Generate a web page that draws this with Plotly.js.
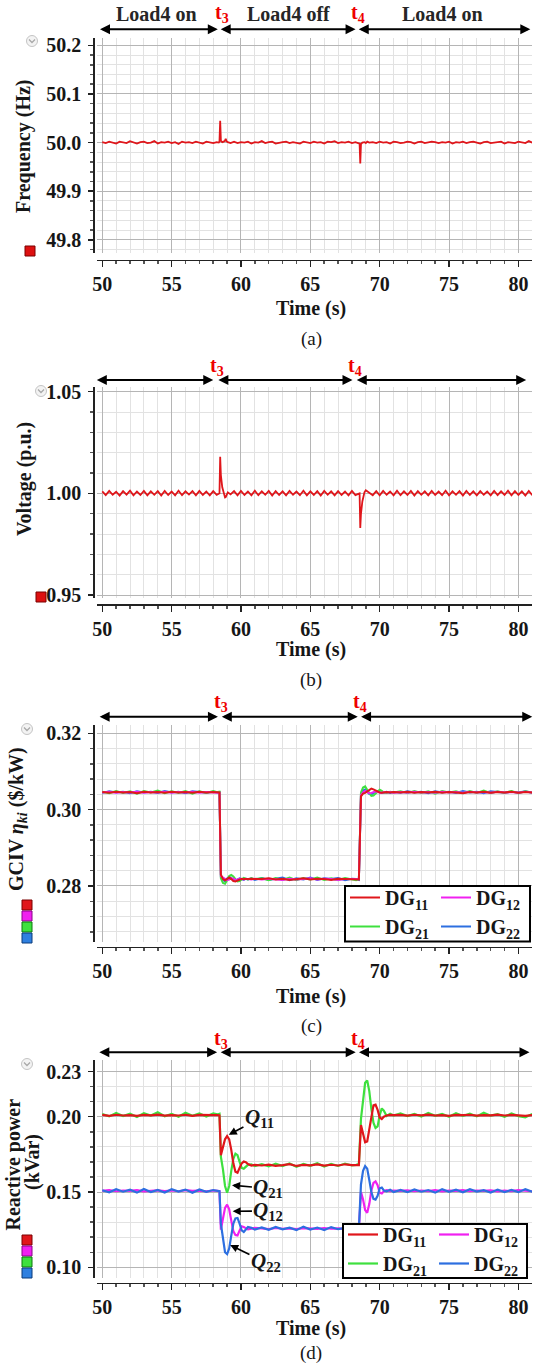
<!DOCTYPE html>
<html>
<head>
<meta charset="utf-8">
<script src="https://cdn.plot.ly/plotly-3.0.1.min.js"></script>
<style>html,body{margin:0;padding:0;background:#fff;}#chart{width:539px;height:1363px;}</style>
</head>
<body>
<div id="chart"></div>
<script>
// ---------------- DATA ----------------
// Panels (a) and (b): time samples (s)
const T_AB = [50,50.25,50.5,50.75,51,51.25,51.5,51.75,52,52.25,52.5,52.75,53,53.25,53.5,53.75,54,54.25,54.5,54.75,55,55.25,55.5,55.75,56,56.25,56.5,56.75,57,57.25,57.5,57.75,58,58.25,
  58.4,58.45,58.5,58.55,58.65,58.75,58.85,58.9,58.95,59.05,59.25,
  59.5,59.75,60,60.25,60.5,60.75,61,61.25,61.5,61.75,62,62.25,62.5,62.75,63,63.25,63.5,63.75,64,64.25,64.5,64.75,65,65.25,65.5,65.75,66,66.25,66.5,66.75,67,67.25,67.5,67.75,68,68.25,
  68.4,68.55,68.6,68.65,68.75,68.9,69.0,69.1,69.25,
  69.5,69.75,70,70.25,70.5,70.75,71,71.25,71.5,71.75,72,72.25,72.5,72.75,73,73.25,73.5,73.75,74,74.25,74.5,74.75,75,75.25,75.5,75.75,76,76.25,76.5,76.75,77,77.25,77.5,77.75,78,78.25,78.5,78.75,79,79.25,79.5,79.75,80,80.25,80.5,80.75,81];
// (a) Frequency (Hz)
const FREQ = [50.001,49.999,50.002,50.000,49.998,50.002,50.001,49.999,50.003,50.000,49.998,50.001,50.002,49.999,50.000,50.003,49.998,50.001,50.000,50.002,49.999,50.001,49.997,50.002,50.000,50.001,49.999,50.002,50.000,49.998,50.002,50.001,49.999,50.001,
  50.000,50.002,50.045,50.004,50.001,50.002,50.004,50.008,50.003,50.001,49.999,
  50.002,49.999,50.001,50.000,50.002,49.998,50.001,50.000,50.003,49.999,50.001,50.002,49.998,50.000,50.001,50.002,49.999,50.001,50.000,49.998,50.002,50.001,49.999,50.002,50.000,50.001,49.998,50.002,50.001,50.003,49.999,50.001,50.000,50.002,49.999,50.001,
  50.000,49.998,49.957,49.997,50.000,50.001,49.999,50.002,50.000,
  50.001,49.999,50.002,50.000,50.001,49.998,50.002,50.001,49.999,50.000,50.002,50.001,49.998,50.001,50.002,49.999,50.000,50.002,50.001,49.999,50.001,50.000,50.002,49.998,50.001,50.000,50.002,49.999,50.001,50.002,50.000,49.998,50.001,50.002,49.999,50.000,50.001,50.002,49.998,50.001,50.000,49.999,50.002,50.001,49.999,50.003,50.000];
// (b) Voltage (p.u.)
const VOLT = [1.0010,0.9991,1.0012,0.9993,1.0008,0.9989,1.0011,0.9994,1.0013,0.9990,1.0009,0.9992,1.0012,0.9990,1.0010,0.9993,1.0011,0.9989,1.0012,0.9992,1.0009,0.9990,1.0013,0.9991,1.0010,0.9994,1.0011,0.9990,1.0012,0.9992,1.0009,0.9990,1.0011,0.9993,
  0.9998,1.0000,1.0180,1.0090,1.0030,1.0000,0.9980,0.9982,0.9990,1.0005,0.9995,
  1.0011,0.9990,1.0012,0.9992,1.0009,0.9990,1.0013,0.9991,1.0010,0.9993,1.0012,0.9989,1.0011,0.9992,1.0010,0.9990,1.0012,0.9993,1.0009,0.9991,1.0013,0.9990,1.0010,0.9992,1.0011,0.9989,1.0012,0.9993,1.0010,0.9990,1.0011,0.9992,1.0009,0.9990,1.0012,0.9991,
  0.9995,1.0000,0.9830,0.9900,0.9960,1.0005,1.0015,1.0010,1.0000,
  0.9991,1.0011,0.9990,1.0012,0.9993,1.0009,0.9990,1.0013,0.9991,1.0010,0.9992,1.0012,0.9989,1.0011,0.9993,1.0010,0.9990,1.0012,0.9992,1.0009,0.9991,1.0013,0.9990,1.0010,0.9993,1.0011,0.9989,1.0012,0.9992,1.0010,0.9990,1.0011,0.9993,1.0009,0.9990,1.0012,0.9991,1.0010,0.9992,1.0013,0.9990,1.0011,0.9992,1.0010,0.9989,1.0012,0.9991];

// Panels (c) and (d): time samples (s)
const T_CD = [50.0,50.5,51.0,51.5,52.0,52.5,53.0,53.5,54.0,54.5,55.0,55.5,56.0,56.5,57.0,57.5,58.0,
  58.3,58.45,58.55,58.7,58.85,59.0,59.15,59.3,59.45,59.6,59.75,59.9,60.05,60.2,60.35,60.5,60.75,61.0,
  61.5,62.0,62.5,63.0,63.5,64.0,64.5,65.0,65.5,66.0,66.5,67.0,67.5,68.0,
  68.3,68.5,68.65,68.8,68.95,69.1,69.25,69.4,69.55,69.7,69.85,70.0,70.15,70.3,70.5,70.75,71.0,
  71.5,72.0,72.5,73.0,73.5,74.0,74.5,75.0,75.5,76.0,76.5,77.0,77.5,78.0,78.5,79.0,79.5,80.0,80.5,81.0];

// (c) GCIV eta_ki ($/kW)
const GCIV_DG11 = [0.3046,0.3044,0.3047,0.3045,0.3046,0.3043,0.3047,0.3045,0.3046,0.3044,0.3047,0.3045,0.3046,0.3044,0.3047,0.3045,0.3046,
  0.3046,0.3045,0.2830,0.2818,0.2815,0.2818,0.2822,0.2818,0.2813,0.2812,0.2815,0.2818,0.2819,0.2818,0.2817,0.2818,0.2819,0.2818,
  0.2818,0.2820,0.2817,0.2819,0.2816,0.2818,0.2820,0.2817,0.2819,0.2818,0.2816,0.2819,0.2818,0.2817,
  0.2818,0.2817,0.3035,0.3042,0.3044,0.3048,0.3053,0.3055,0.3053,0.3050,0.3047,0.3045,0.3044,0.3045,0.3046,0.3045,0.3046,
  0.3045,0.3047,0.3044,0.3046,0.3045,0.3047,0.3044,0.3046,0.3045,0.3043,0.3046,0.3045,0.3047,0.3044,0.3046,0.3045,0.3047,0.3044,0.3046,0.3045];
const GCIV_DG12 = [0.3045,0.3047,0.3044,0.3046,0.3045,0.3047,0.3044,0.3046,0.3045,0.3047,0.3044,0.3046,0.3045,0.3047,0.3044,0.3046,0.3045,
  0.3045,0.3044,0.2826,0.2822,0.2818,0.2815,0.2817,0.2820,0.2819,0.2816,0.2817,0.2819,0.2818,0.2817,0.2819,0.2818,0.2817,0.2819,
  0.2817,0.2819,0.2818,0.2816,0.2819,0.2817,0.2818,0.2820,0.2817,0.2819,0.2818,0.2816,0.2818,0.2819,
  0.2818,0.2818,0.3038,0.3045,0.3049,0.3046,0.3043,0.3044,0.3046,0.3048,0.3046,0.3045,0.3044,0.3046,0.3045,0.3046,0.3044,
  0.3046,0.3044,0.3047,0.3045,0.3046,0.3044,0.3047,0.3045,0.3046,0.3044,0.3047,0.3045,0.3046,0.3044,0.3047,0.3045,0.3046,0.3044,0.3047,0.3045];
const GCIV_DG21 = [0.3047,0.3043,0.3049,0.3044,0.3048,0.3042,0.3049,0.3045,0.3050,0.3043,0.3048,0.3044,0.3049,0.3042,0.3048,0.3044,0.3049,
  0.3046,0.3047,0.2820,0.2808,0.2806,0.2815,0.2826,0.2829,0.2825,0.2818,0.2812,0.2813,0.2818,0.2821,0.2819,0.2817,0.2820,0.2818,
  0.2820,0.2815,0.2821,0.2816,0.2822,0.2815,0.2821,0.2817,0.2822,0.2816,0.2820,0.2815,0.2821,0.2816,
  0.2815,0.2819,0.3045,0.3058,0.3061,0.3052,0.3042,0.3036,0.3037,0.3042,0.3049,0.3052,0.3049,0.3045,0.3044,0.3047,0.3045,
  0.3048,0.3043,0.3049,0.3044,0.3048,0.3042,0.3049,0.3045,0.3048,0.3043,0.3049,0.3044,0.3050,0.3043,0.3048,0.3044,0.3049,0.3043,0.3048,0.3045];
const GCIV_DG22 = [0.3044,0.3048,0.3045,0.3047,0.3043,0.3048,0.3045,0.3047,0.3044,0.3049,0.3045,0.3047,0.3043,0.3048,0.3046,0.3044,0.3047,
  0.3045,0.3046,0.2824,0.2816,0.2812,0.2820,0.2824,0.2821,0.2815,0.2814,0.2817,0.2820,0.2818,0.2816,0.2819,0.2817,0.2820,0.2816,
  0.2821,0.2816,0.2819,0.2822,0.2815,0.2820,0.2817,0.2822,0.2816,0.2820,0.2818,0.2821,0.2815,0.2819,
  0.2818,0.2816,0.3040,0.3050,0.3053,0.3047,0.3041,0.3040,0.3044,0.3047,0.3048,0.3046,0.3044,0.3045,0.3047,0.3044,0.3046,
  0.3044,0.3048,0.3045,0.3047,0.3043,0.3048,0.3045,0.3047,0.3044,0.3049,0.3045,0.3047,0.3043,0.3048,0.3046,0.3044,0.3047,0.3045,0.3048,0.3044];

// (d) Reactive power (kVar)
const Q_DG11 = [0.2012,0.2006,0.2013,0.2008,0.2011,0.2005,0.2012,0.2009,0.2014,0.2007,0.2011,0.2008,0.2013,0.2006,0.2012,0.2009,0.2011,
  0.2010,0.2008,0.1745,0.1790,0.1850,0.1872,0.1850,0.1780,0.1690,0.1635,0.1628,0.1660,0.1690,0.1702,0.1698,0.1685,0.1676,0.1680,
  0.1676,0.1682,0.1674,0.1679,0.1685,0.1673,0.1680,0.1677,0.1683,0.1675,0.1681,0.1676,0.1684,0.1678,
  0.1680,0.1679,0.1945,0.1880,0.1830,0.1835,0.1920,0.2020,0.2075,0.2080,0.2045,0.1995,0.1985,0.2000,0.2008,0.2012,0.2010,
  0.2012,0.2007,0.2013,0.2009,0.2014,0.2008,0.2011,0.2006,0.2012,0.2010,0.2013,0.2007,0.2011,0.2009,0.2014,0.2008,0.2012,0.2010,0.2006,0.2011];
const Q_DG12 = [0.1508,0.1512,0.1505,0.1510,0.1507,0.1513,0.1504,0.1509,0.1511,0.1506,0.1510,0.1505,0.1512,0.1507,0.1509,0.1504,0.1510,
  0.1508,0.1506,0.1250,0.1320,0.1395,0.1416,0.1385,0.1310,0.1240,0.1215,0.1212,0.1245,0.1272,0.1268,0.1258,0.1252,0.1257,0.1262,
  0.1258,0.1254,0.1261,0.1256,0.1259,0.1253,0.1260,0.1257,0.1255,0.1261,0.1256,0.1259,0.1254,0.1258,
  0.1257,0.1255,0.1500,0.1450,0.1380,0.1362,0.1420,0.1510,0.1560,0.1570,0.1545,0.1495,0.1490,0.1505,0.1512,0.1506,0.1509,
  0.1507,0.1511,0.1505,0.1510,0.1506,0.1512,0.1504,0.1509,0.1508,0.1513,0.1505,0.1510,0.1507,0.1511,0.1504,0.1509,0.1506,0.1512,0.1508,0.1505];
const Q_DG21 = [0.2018,0.2002,0.2025,0.2005,0.2020,0.1998,0.2024,0.2008,0.2030,0.2003,0.2019,0.2000,0.2026,0.2006,0.2021,0.2001,0.2022,
  0.2015,0.2020,0.1735,0.1650,0.1540,0.1495,0.1540,0.1640,0.1720,0.1755,0.1745,0.1700,0.1660,0.1655,0.1668,0.1680,0.1684,0.1672,
  0.1685,0.1670,0.1688,0.1672,0.1690,0.1668,0.1686,0.1674,0.1691,0.1669,0.1687,0.1673,0.1689,0.1676,
  0.1680,0.1685,0.1985,0.2120,0.2225,0.2240,0.2170,0.2050,0.1960,0.1925,0.1935,0.2010,0.2055,0.2040,0.2005,0.2020,0.2008,
  0.2022,0.2004,0.2019,0.2001,0.2025,0.2006,0.2018,0.1999,0.2023,0.2005,0.2020,0.2002,0.2026,0.2007,0.2017,0.2000,0.2021,0.2004,0.1996,0.2018];
const Q_DG22 = [0.1512,0.1498,0.1518,0.1502,0.1515,0.1496,0.1520,0.1500,0.1514,0.1497,0.1519,0.1503,0.1516,0.1495,0.1517,0.1501,0.1513,
  0.1510,0.1505,0.1290,0.1180,0.1100,0.1088,0.1125,0.1210,0.1290,0.1325,0.1328,0.1290,0.1245,0.1235,0.1255,0.1268,0.1262,0.1250,
  0.1265,0.1249,0.1268,0.1252,0.1263,0.1247,0.1270,0.1251,0.1264,0.1248,0.1267,0.1253,0.1262,0.1250,
  0.1262,0.1258,0.1550,0.1640,0.1672,0.1655,0.1580,0.1500,0.1455,0.1450,0.1475,0.1525,0.1530,0.1510,0.1505,0.1515,0.1500,
  0.1514,0.1499,0.1517,0.1502,0.1513,0.1496,0.1519,0.1501,0.1515,0.1498,0.1518,0.1503,0.1512,0.1497,0.1516,0.1500,0.1514,0.1499,0.1518,0.1502];

const SERIES_NAMES = ['DG<sub>11</sub>','DG<sub>12</sub>','DG<sub>21</sub>','DG<sub>22</sub>'];
const Q_LABELS = ['<i>Q</i><sub>11</sub>','<i>Q</i><sub>21</sub>','<i>Q</i><sub>12</sub>','<i>Q</i><sub>22</sub>'];
const SEGMENT_LABELS = ['Load4 on','Load4 off','Load4 on'];
const EVENT_LABELS = ['t<sub>3</sub>','t<sub>4</sub>'];
const Y_TITLES = ['Frequency (Hz)','Voltage (p.u.)','GCIV <i>η<sub>ki</sub></i> ($/kW)'];
const X_TITLE = 'Time (s)';
const PANEL_TAGS = ['(a)','(b)','(c)','(d)'];

// ---------------- STYLE / LAYOUT ----------------
const W = 539, H = 1363;
const px = v => v / W;
const py = v => 1 - v / H;
const FAM = '"Liberation Serif", "Times New Roman", serif';
const RED = '#e0161b', MAG = '#f020f0', GRN = '#3ee03e', BLU = '#2d6fe0';
const X_RANGE = [49.62, 80.98];
const X_DOM = [px(97), px(532)];
const Y_POS = px(93.3);
const boldFont = (size, color) => ({family: FAM, size: size, color: color || '#161616', weight: 'bold'});

function xAxis(axisLinePx) {
  return {
    domain: X_DOM, anchor: 'free', position: py(axisLinePx), range: X_RANGE,
    tick0: 50, dtick: 5, ticks: 'outside', ticklen: 6, tickwidth: 1.5, tickcolor: '#222',
    showline: true, linecolor: '#222', linewidth: 1.5,
    showgrid: true, gridcolor: '#b5b5b5', gridwidth: 1, zeroline: false,
    minor: {tick0: 50, dtick: 1, showgrid: true, gridcolor: '#e2e2e2', gridwidth: 1, ticks: 'outside', ticklen: 3, tickcolor: '#555'},
    tickfont: boldFont(20), ticklabelstandoff: 0,
    automargin: false, fixedrange: true
  };
}
function yAxis(topPx, botPx, range, opts) {
  return Object.assign({
    domain: [py(botPx), py(topPx)], anchor: 'free', position: Y_POS, range: range,
    ticks: 'outside', ticklen: 5, tickwidth: 1.5, tickcolor: '#222',
    showline: true, linecolor: '#222', linewidth: 1.5,
    showgrid: true, gridcolor: '#b5b5b5', gridwidth: 1, zeroline: false,
    tickfont: boldFont(20), ticklabelstandoff: 3,
    automargin: false, fixedrange: true
  }, opts);
}

const traces = [];
traces.push({x: T_AB, y: FREQ, xaxis: 'x', yaxis: 'y', type: 'scatter', mode: 'lines', line: {color: RED, width: 1.8}, showlegend: false, name: 'Frequency'});
traces.push({x: T_AB, y: VOLT, xaxis: 'x2', yaxis: 'y2', type: 'scatter', mode: 'lines', line: {color: RED, width: 1.8}, showlegend: false, name: 'Voltage'});

// (c) drawn blue, green, magenta, red (red on top)
const cSeries = [
  {y: GCIV_DG22, c: BLU, n: SERIES_NAMES[3], lg: 'legend2', r: 2},
  {y: GCIV_DG21, c: GRN, n: SERIES_NAMES[2], lg: 'legend', r: 2},
  {y: GCIV_DG12, c: MAG, n: SERIES_NAMES[1], lg: 'legend2', r: 1},
  {y: GCIV_DG11, c: RED, n: SERIES_NAMES[0], lg: 'legend', r: 1}
];
cSeries.forEach(s => traces.push({x: T_CD, y: s.y, xaxis: 'x3', yaxis: 'y3', type: 'scatter', mode: 'lines',
  line: {color: s.c, width: 2}, name: s.n, legend: s.lg, legendrank: s.r}));
// (d) drawn magenta, blue, green, red
const dSeries = [
  {y: Q_DG12, c: MAG, n: SERIES_NAMES[1], lg: 'legend4', r: 1},
  {y: Q_DG22, c: BLU, n: SERIES_NAMES[3], lg: 'legend4', r: 2},
  {y: Q_DG21, c: GRN, n: SERIES_NAMES[2], lg: 'legend3', r: 2},
  {y: Q_DG11, c: RED, n: SERIES_NAMES[0], lg: 'legend3', r: 1}
];
dSeries.forEach(s => traces.push({x: T_CD, y: s.y, xaxis: 'x4', yaxis: 'y4', type: 'scatter', mode: 'lines',
  line: {color: s.c, width: 2.2}, name: s.n, legend: s.lg, legendrank: s.r}));

// annotations
const ann = [];
function dblArrow(xr, x0, x1, yPx) {
  ann.push({xref: xr, yref: 'paper', x: x1, y: py(yPx), axref: xr, ax: x0, ayref: 'pixel', ay: 0,
    text: '', showarrow: true, arrowside: 'end+start', arrowhead: 2, arrowsize: 1, arrowwidth: 2, arrowcolor: '#000', standoff: 0, startstandoff: 0});
}
function txt(xr, x, yPx, text, font, extra) {
  ann.push(Object.assign({xref: xr, yref: 'paper', x: x, y: py(yPx), text: text, showarrow: false, font: font, xanchor: 'center', yanchor: 'middle'}, extra || {}));
}
// panel (a) header
txt('x', 53.93, 14, SEGMENT_LABELS[0], boldFont(20, '#262626'));
txt('x', 63.4, 14, SEGMENT_LABELS[1], boldFont(20, '#262626'));
txt('x', 74.56, 14, SEGMENT_LABELS[2], boldFont(20, '#262626'));
txt('x', 58.6, 14, EVENT_LABELS[0], boldFont(20, '#ee0000'));
txt('x', 68.45, 14, EVENT_LABELS[1], boldFont(20, '#ee0000'));
dblArrow('x', 49.73, 58.33, 29.3); dblArrow('x', 58.43, 68.26, 29.3); dblArrow('x', 68.38, 80.86, 29.3);
// panel (b) header
txt('x2', 58.3, 366, EVENT_LABELS[0], boldFont(20, '#ee0000'));
txt('x2', 68.2, 366, EVENT_LABELS[1], boldFont(20, '#ee0000'));
dblArrow('x2', 49.5, 58.0, 380); dblArrow('x2', 58.26, 68.04, 380); dblArrow('x2', 68.24, 80.56, 380);
// panel (c) header
txt('x3', 58.59, 702, EVENT_LABELS[0], boldFont(20, '#ee0000'));
txt('x3', 68.6, 702, EVENT_LABELS[1], boldFont(20, '#ee0000'));
dblArrow('x3', 49.7, 58.34, 716.7); dblArrow('x3', 58.51, 68.42, 716.7); dblArrow('x3', 68.55, 81.0, 716.7);
// panel (d) header
txt('x4', 58.53, 1039.3, EVENT_LABELS[0], boldFont(20, '#ee0000'));
txt('x4', 68.45, 1039.3, EVENT_LABELS[1], boldFont(20, '#ee0000'));
dblArrow('x4', 49.68, 58.28, 1052.3); dblArrow('x4', 58.43, 68.27, 1052.3); dblArrow('x4', 68.4, 80.8, 1052.3);

// y titles
const ttl = (x, y, text, angle) => ann.push({xref: 'paper', yref: 'paper', x: px(x), y: py(y), text: text, textangle: angle, showarrow: false, font: boldFont(20), xanchor: 'center', yanchor: 'middle'});
ttl(23, 146, Y_TITLES[0], -90);
ttl(24, 479, Y_TITLES[1], -90);
ttl(17, 819, Y_TITLES[2], -90);
ttl(12.5, 1165, 'Reactive power', -90);
ttl(32, 1162, '(kVar)', -90);
// x titles
[309, 649, 996, 1328].forEach(y => ttl(311, y, X_TITLE, 0));

// panel tags
const tagFont = {family: FAM, size: 19, color: '#161616', weight: 'normal'};
[339, 680, 1026, 1353].forEach((yy, i) => ann.push({xref: 'paper', yref: 'paper', x: px(311), y: py(yy), text: PANEL_TAGS[i], showarrow: false, font: tagFont, xanchor: 'center', yanchor: 'middle'}));

// Q labels in (d)
const qPos = [
  {tip: [59.12, 0.1880], lab: [61.33, 0.1989]},
  {tip: [59.35, 0.1545], lab: [61.98, 0.1524]},
  {tip: [59.4, 0.1372], lab: [61.98, 0.1374]},
  {tip: [59.22, 0.1148], lab: [61.8, 0.1032]}
];
qPos.forEach((q, i) => ann.push({xref: 'x4', yref: 'y4', x: q.tip[0], y: q.tip[1], axref: 'x4', ayref: 'y4', ax: q.lab[0], ay: q.lab[1],
  text: Q_LABELS[i], showarrow: true, arrowhead: 2, arrowsize: 1, arrowwidth: 1.6, arrowcolor: '#000', standoff: 0,
  font: {family: FAM, size: 21, color: '#161616', weight: 'bold'}}));

// shapes: legend boxes, indicator squares, icons
const shapes = [];
function rectPx(x0, y0, x1, y1, fill, line, lw) {
  shapes.push({type: 'rect', xref: 'paper', yref: 'paper', x0: px(x0), x1: px(x1), y0: py(y1), y1: py(y0),
    fillcolor: fill, line: {color: line, width: lw}, layer: 'above'});
}
rectPx(345, 886, 530, 941.5, '#ffffff', '#000', 2);
rectPx(343, 1224, 527, 1278, '#ffffff', '#000', 2);
// signal indicator squares
rectPx(25, 246, 35, 256, '#dd1010', '#7a0000', 1);
rectPx(36, 592, 46, 602, '#dd1010', '#7a0000', 1);
[[RED,'#7a0000'],[MAG,'#8a008a'],[GRN,'#0a7a0a'],['#2f80e0','#0a3a7a']].forEach((c, i) => {
  rectPx(22, 900 + i * 11, 32, 910 + i * 11, c[0], c[1], 1);
  rectPx(22, 1235 + i * 11, 32, 1245 + i * 11, c[0], c[1], 1);
});
// grey dropdown icons
[[32, 41], [41, 391], [27, 729], [27, 1064]].forEach(c => {
  shapes.push({type: 'circle', xref: 'paper', yref: 'paper', x0: px(c[0] - 5.5), x1: px(c[0] + 5.5), y0: py(c[1] + 5.5), y1: py(c[1] - 5.5),
    fillcolor: '#f3f3f3', line: {color: '#c4c4c4', width: 1}, layer: 'above'});
  shapes.push({type: 'path', xref: 'paper', yref: 'paper',
    path: 'M' + px(c[0] - 3) + ',' + py(c[1] - 1.5) + ' L' + px(c[0]) + ',' + py(c[1] + 1.5) + ' L' + px(c[0] + 3) + ',' + py(c[1] - 1.5),
    line: {color: '#a8a8a8', width: 1.3}, layer: 'above'});
});

function legendAt(xPx, yPx) {
  return {x: px(xPx), y: py(yPx), xanchor: 'left', yanchor: 'top', orientation: 'v', bgcolor: 'rgba(0,0,0,0)',
    borderwidth: 0, font: boldFont(20), tracegroupgap: 0, itemwidth: 30, itemclick: false, itemdoubleclick: false};
}

const layout = {
  width: W, height: H, margin: {l: 0, r: 0, t: 0, b: 0},
  paper_bgcolor: '#fff', plot_bgcolor: '#fff',
  font: {family: FAM, size: 20, color: '#161616'},
  showlegend: true,
  xaxis: xAxis(259.5),
  yaxis: yAxis(38, 253, [49.773, 50.215], {tick0: 49.8, dtick: 0.1, tickformat: '.1f',
    minor: {tick0: 49.8, dtick: 0.02, showgrid: true, gridcolor: '#e2e2e2', ticks: 'outside', ticklen: 3, tickcolor: '#555'}}),
  xaxis2: xAxis(604),
  yaxis2: yAxis(386.7, 598.3, [0.94838, 1.05246], {tick0: 0.95, dtick: 0.05, tickformat: '.2f',
    minor: {tick0: 0.95, dtick: 0.01, showgrid: true, gridcolor: '#e2e2e2', ticks: 'outside', ticklen: 3, tickcolor: '#555'}}),
  xaxis3: xAxis(946.7),
  yaxis3: yAxis(725, 941.7, [0.2654, 0.32218], {tick0: 0.28, dtick: 0.02, tickformat: '.2f',
    minor: {tick0: 0.28, dtick: 0.004, showgrid: true, gridcolor: '#e2e2e2', ticks: 'outside', ticklen: 3, tickcolor: '#555'}}),
  xaxis4: xAxis(1282.7),
  yaxis4: yAxis(1060, 1278.3, [0.0927, 0.23765], {tickmode: 'array', tickvals: [0.10, 0.15, 0.20, 0.23], ticktext: ['0.10','0.15','0.20','0.23'],
    minor: {tick0: 0.10, dtick: 0.01, showgrid: true, gridcolor: '#e2e2e2', ticks: 'outside', ticklen: 3, tickcolor: '#555'}}),
  legend: legendAt(345, 878),
  legend2: legendAt(436, 878),
  legend3: legendAt(343, 1215),
  legend4: legendAt(434, 1215),
  annotations: ann,
  shapes: shapes
};

Plotly.newPlot('chart', traces, layout, {displayModeBar: false, staticPlot: true});
</script>
</body>
</html>
